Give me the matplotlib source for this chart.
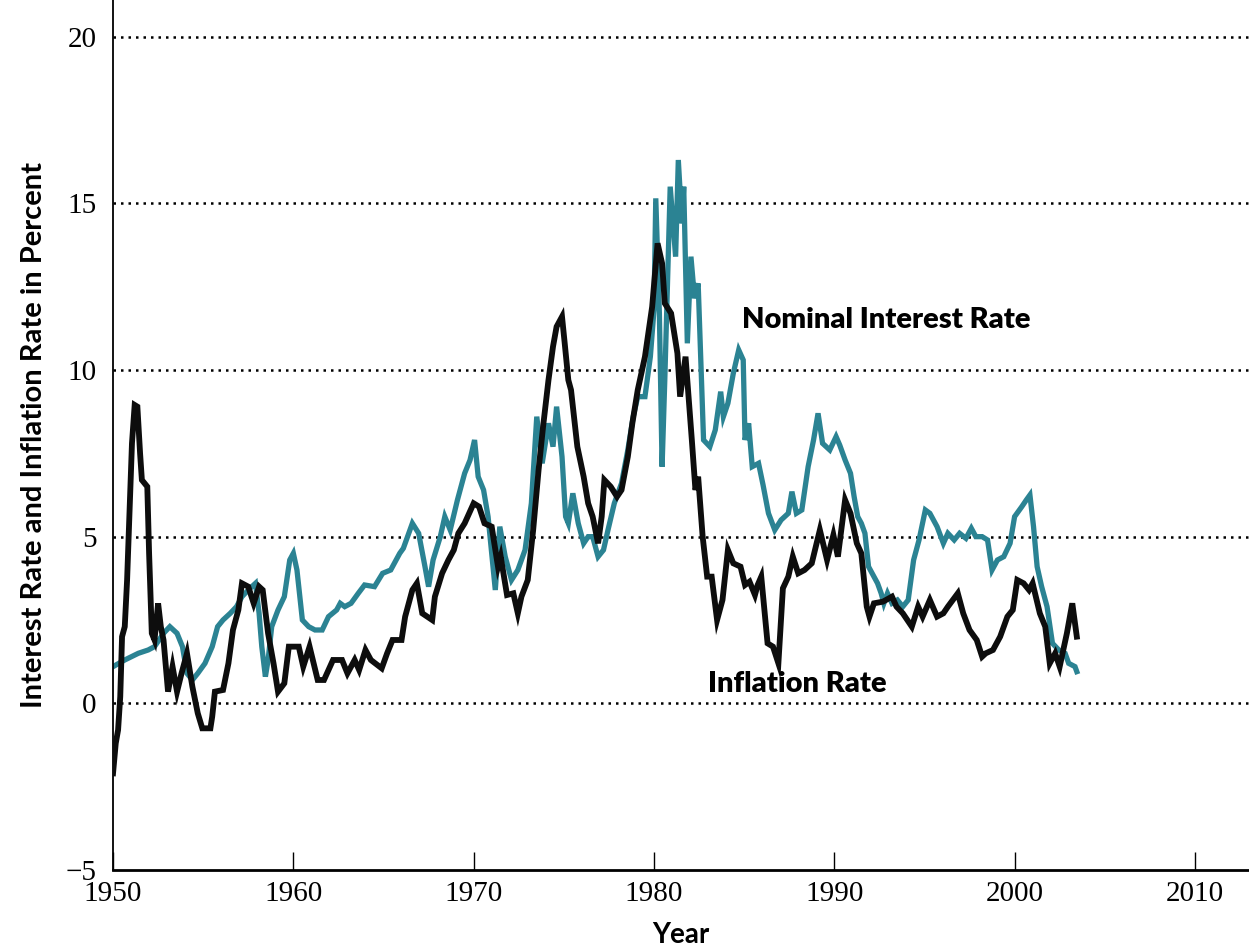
import numpy as np
import matplotlib
matplotlib.use("Agg")
import matplotlib.pyplot as plt

# inflation rate (black)
infl_years = [1950.0, 1950.15, 1950.28, 1950.4, 1950.5, 1950.65, 1950.78, 1950.9, 1951.05, 1951.2,
              1951.35, 1951.5, 1951.6, 1951.9, 1952.0, 1952.15, 1952.3, 1952.5, 1952.65, 1952.8,
              1953.05, 1953.3, 1953.55, 1953.8, 1954.1, 1954.4, 1954.7, 1954.95, 1955.4, 1955.5,
              1955.65, 1956.1, 1956.4, 1956.65, 1956.95, 1957.15, 1957.5, 1957.8, 1958.1, 1958.3,
              1958.6, 1958.9, 1959.15, 1959.5, 1959.75, 1960.3, 1960.55, 1960.9, 1961.35, 1961.7,
              1962.2, 1962.7, 1963.0, 1963.4, 1963.65, 1964.0, 1964.3, 1964.9, 1965.2, 1965.5,
              1966.0, 1966.2, 1966.6, 1966.85, 1967.15, 1967.7, 1967.85, 1968.25, 1968.6, 1968.9,
              1969.15, 1969.5, 1970.0, 1970.3, 1970.6, 1971.0, 1971.35, 1971.5, 1971.85, 1972.2,
              1972.45, 1972.65, 1973.0, 1973.3, 1973.6, 1973.85, 1974.15, 1974.4, 1974.6, 1974.9,
              1975.05, 1975.25, 1975.4, 1975.75, 1976.1, 1976.35, 1976.6, 1976.9, 1977.1, 1977.25,
              1977.6, 1977.95, 1978.2, 1978.55, 1978.8, 1979.1, 1979.5, 1979.9, 1980.2, 1980.45,
              1980.6, 1980.95, 1981.3, 1981.45, 1981.75, 1982.1, 1982.3, 1982.45, 1982.7, 1982.95,
              1983.2, 1983.5, 1983.8, 1984.1, 1984.4, 1984.8, 1985.05, 1985.3, 1985.6, 1985.75,
              1985.95, 1986.3, 1986.6, 1986.9, 1987.15, 1987.45, 1987.7, 1988.0, 1988.35, 1988.75,
              1989.2, 1989.6, 1989.95, 1990.2, 1990.6, 1990.9, 1991.25, 1991.5, 1991.8, 1991.95,
              1992.2, 1992.7, 1993.2, 1993.45, 1993.8, 1994.3, 1994.65, 1994.9, 1995.3, 1995.7,
              1996.05, 1996.3, 1996.85, 1997.15, 1997.5, 1997.9, 1998.2, 1998.4, 1998.8, 1999.2,
              1999.6, 1999.9, 2000.15, 2000.5, 2000.8, 2001.0, 2001.4, 2001.7, 2001.95, 2002.25,
              2002.5, 2002.9, 2003.2, 2003.45]
infl_values = [-2.1, -1.2, -0.8, 0.2, 2.0, 2.3, 3.7, 5.5, 7.8, 8.95,
               8.9, 7.5, 6.7, 6.5, 4.5, 2.1, 1.9, 3.0, 2.3, 1.9,
               0.35, 1.1, 0.35, 0.9, 1.5, 0.5, -0.3, -0.75, -0.75, -0.4,
               0.35, 0.4, 1.2, 2.2, 2.8, 3.6, 3.5, 3.0, 3.5, 3.4,
               2.1, 1.2, 0.35, 0.6, 1.7, 1.7, 1.1, 1.7, 0.7, 0.7,
               1.3, 1.3, 0.9, 1.3, 1.0, 1.6, 1.3, 1.05, 1.5, 1.9,
               1.9, 2.6, 3.4, 3.6, 2.7, 2.5, 3.2, 3.9, 4.3, 4.6,
               5.1, 5.4, 6.0, 5.9, 5.4, 5.3, 4.1, 4.4, 3.25, 3.3,
               2.7, 3.2, 3.7, 5.2, 7.0, 8.3, 9.7, 10.7, 11.3, 11.6,
               10.8, 9.7, 9.4, 7.7, 6.8, 6.0, 5.6, 4.8, 5.6, 6.7,
               6.5, 6.2, 6.4, 7.4, 8.4, 9.4, 10.4, 11.9, 13.8, 13.2,
               12.0, 11.7, 10.5, 9.2, 10.4, 7.9, 6.4, 6.8, 5.0, 3.8,
               3.8, 2.5, 3.1, 4.6, 4.2, 4.1, 3.55, 3.65, 3.25, 3.55,
               3.8, 1.8, 1.7, 1.2, 3.45, 3.8, 4.4, 3.9, 4.0, 4.2,
               5.2, 4.3, 5.05, 4.4, 6.1, 5.7, 4.8, 4.5, 2.9, 2.6,
               3.0, 3.05, 3.2, 2.9, 2.7, 2.3, 2.9, 2.6, 3.1, 2.6,
               2.7, 2.9, 3.3, 2.7, 2.2, 1.9, 1.4, 1.5, 1.6, 2.0,
               2.6, 2.8, 3.7, 3.6, 3.4, 3.6, 2.7, 2.3, 1.2, 1.5,
               1.1, 2.1, 3.0, 2.0]

# nominal interest rate (teal)
rate_years = [1950.0, 1950.65, 1951.4, 1951.95, 1952.3, 1952.8, 1953.15, 1953.55, 1953.85, 1954.1,
              1954.4, 1954.7, 1955.1, 1955.5, 1955.8, 1956.1, 1956.5, 1956.85, 1957.15, 1957.5,
              1957.9, 1958.1, 1958.25, 1958.45, 1958.6, 1958.8, 1959.15, 1959.5, 1959.8, 1960.0,
              1960.2, 1960.5, 1960.85, 1961.2, 1961.6, 1961.95, 1962.4, 1962.6, 1962.85, 1963.2,
              1963.6, 1963.95, 1964.5, 1964.95, 1965.4, 1965.9, 1966.1, 1966.6, 1966.95, 1967.3,
              1967.5, 1967.75, 1968.15, 1968.4, 1968.7, 1969.1, 1969.5, 1969.8, 1970.05, 1970.25,
              1970.55, 1970.8, 1971.2, 1971.45, 1971.75, 1972.1, 1972.45, 1972.85, 1973.2, 1973.5,
              1973.8, 1974.15, 1974.4, 1974.6, 1974.9, 1975.1, 1975.25, 1975.5, 1975.8, 1976.1,
              1976.35, 1976.6, 1976.9, 1977.2, 1977.45, 1977.8, 1978.2, 1978.55, 1978.85, 1979.1,
              1979.5, 1979.8, 1980.0, 1980.1, 1980.3, 1980.45, 1980.6, 1980.9, 1981.2, 1981.35,
              1981.55, 1981.65, 1981.85, 1982.05, 1982.25, 1982.45, 1982.75, 1983.1, 1983.4, 1983.7,
              1983.85, 1984.1, 1984.4, 1984.7, 1984.95, 1985.05, 1985.25, 1985.45, 1985.8, 1986.05,
              1986.35, 1986.7, 1987.05, 1987.45, 1987.65, 1987.9, 1988.2, 1988.55, 1988.85, 1989.1,
              1989.35, 1989.75, 1990.1, 1990.3, 1990.6, 1990.9, 1991.1, 1991.3, 1991.5, 1991.7,
              1991.9, 1992.2, 1992.4, 1992.6, 1992.75, 1992.95, 1993.2, 1993.5, 1993.8, 1994.1,
              1994.4, 1994.7, 1995.05, 1995.3, 1995.7, 1996.05, 1996.3, 1996.65, 1996.95, 1997.3,
              1997.6, 1997.85, 1998.2, 1998.5, 1998.75, 1999.05, 1999.4, 1999.75, 2000.0, 2000.4,
              2000.65, 2000.85, 2001.05, 2001.25, 2001.5, 2001.8, 2002.1, 2002.45, 2002.8, 2003.0,
              2003.35, 2003.45]
rate_values = [1.1, 1.3, 1.5, 1.6, 1.7, 2.1, 2.3, 2.1, 1.7, 0.9,
               0.7, 0.9, 1.2, 1.7, 2.3, 2.5, 2.7, 2.9, 3.2, 3.4,
               3.6, 2.7, 1.7, 0.8, 1.3, 2.3, 2.8, 3.2, 4.3, 4.5,
               4.0, 2.5, 2.3, 2.2, 2.2, 2.6, 2.8, 3.0, 2.9, 3.0,
               3.3, 3.55, 3.5, 3.9, 4.0, 4.5, 4.65, 5.4, 5.1, 4.1,
               3.5, 4.3, 5.0, 5.6, 5.2, 6.1, 6.9, 7.3, 7.9, 6.8,
               6.4, 5.6, 3.4, 5.3, 4.4, 3.7, 4.0, 4.6, 6.0, 8.6,
               7.2, 8.4, 7.7, 8.9, 7.4, 5.6, 5.4, 6.3, 5.4, 4.8,
               5.0, 5.0, 4.4, 4.6, 5.2, 6.0, 6.6, 7.6, 8.6, 9.2,
               9.2, 10.4, 11.8, 15.15, 11.7, 7.1, 9.7, 15.5, 13.4, 16.3,
               14.4, 15.5, 10.8, 13.4, 12.15, 12.6, 7.9, 7.7, 8.2, 9.35,
               8.6, 9.0, 9.9, 10.6, 10.3, 7.9, 8.4, 7.1, 7.2, 6.55,
               5.7, 5.2, 5.5, 5.7, 6.35, 5.7, 5.8, 7.1, 7.9, 8.7,
               7.8, 7.6, 8.0, 7.75, 7.3, 6.9, 6.2, 5.6, 5.4, 5.1,
               4.1, 3.8, 3.6, 3.3, 3.0, 3.3, 3.0, 3.1, 2.9, 3.1,
               4.3, 4.9, 5.8, 5.7, 5.3, 4.8, 5.1, 4.9, 5.1, 4.95,
               5.25, 5.0, 5.0, 4.9, 4.0, 4.3, 4.4, 4.8, 5.6, 5.9,
               6.1, 6.25, 5.3, 4.1, 3.5, 2.9, 1.8, 1.6, 1.5, 1.2,
               1.1, 0.95]

x_ticks = [1950, 1960, 1970, 1980, 1990, 2000, 2010]
y_ticks = [-5, 0, 5, 10, 15, 20]

teal = '#2b8393'
label_font = 'Lato'

fig = plt.figure(figsize=(12.49, 9.51), dpi=100)
ax = fig.add_axes([0.0905, 0.0852, 0.9095, 0.9148])

# dotted grid lines
for y in y_ticks[1:]:
    ax.axhline(y, color='black', lw=1.8, ls=(0, (1, 2.0)), zorder=1)

ax.plot(rate_years, rate_values, color=teal, lw=3.8, solid_joinstyle='miter', zorder=2)
ax.plot(infl_years, infl_values, color='#0d0d0d', lw=4.2, solid_joinstyle='miter', zorder=3)

ax.set_xlim(1950, 2013)
ax.set_ylim(-5, 21.1)
ax.set_xticks(x_ticks)
ax.set_yticks(y_ticks)
ax.tick_params(axis='x', direction='in', length=13, width=1, pad=8,
               labelsize=21, labelfontfamily='Liberation Serif')
ax.tick_params(axis='y', length=0, pad=12, labelsize=21, labelfontfamily='Liberation Serif')

for s in ['top', 'right']:
    ax.spines[s].set_visible(False)
ax.spines['left'].set_linewidth(1.3)
ax.spines['bottom'].set_linewidth(2)

ax.set_ylabel('Interest Rate and Inflation Rate in Percent', fontsize=21, fontweight='bold',
              family=label_font, labelpad=13)
ax.set_xlabel('Year', fontsize=20, fontweight='bold', family=label_font, labelpad=11)

ax.text(1984.9, 11.5, 'Nominal Interest Rate', fontsize=21, fontweight='heavy',
        family=label_font, va='center', ha='left')
ax.text(1983.0, 0.57, 'Inflation Rate', fontsize=21, fontweight='heavy',
        family=label_font, va='center', ha='left')

fig.savefig('out.png', dpi=100)
